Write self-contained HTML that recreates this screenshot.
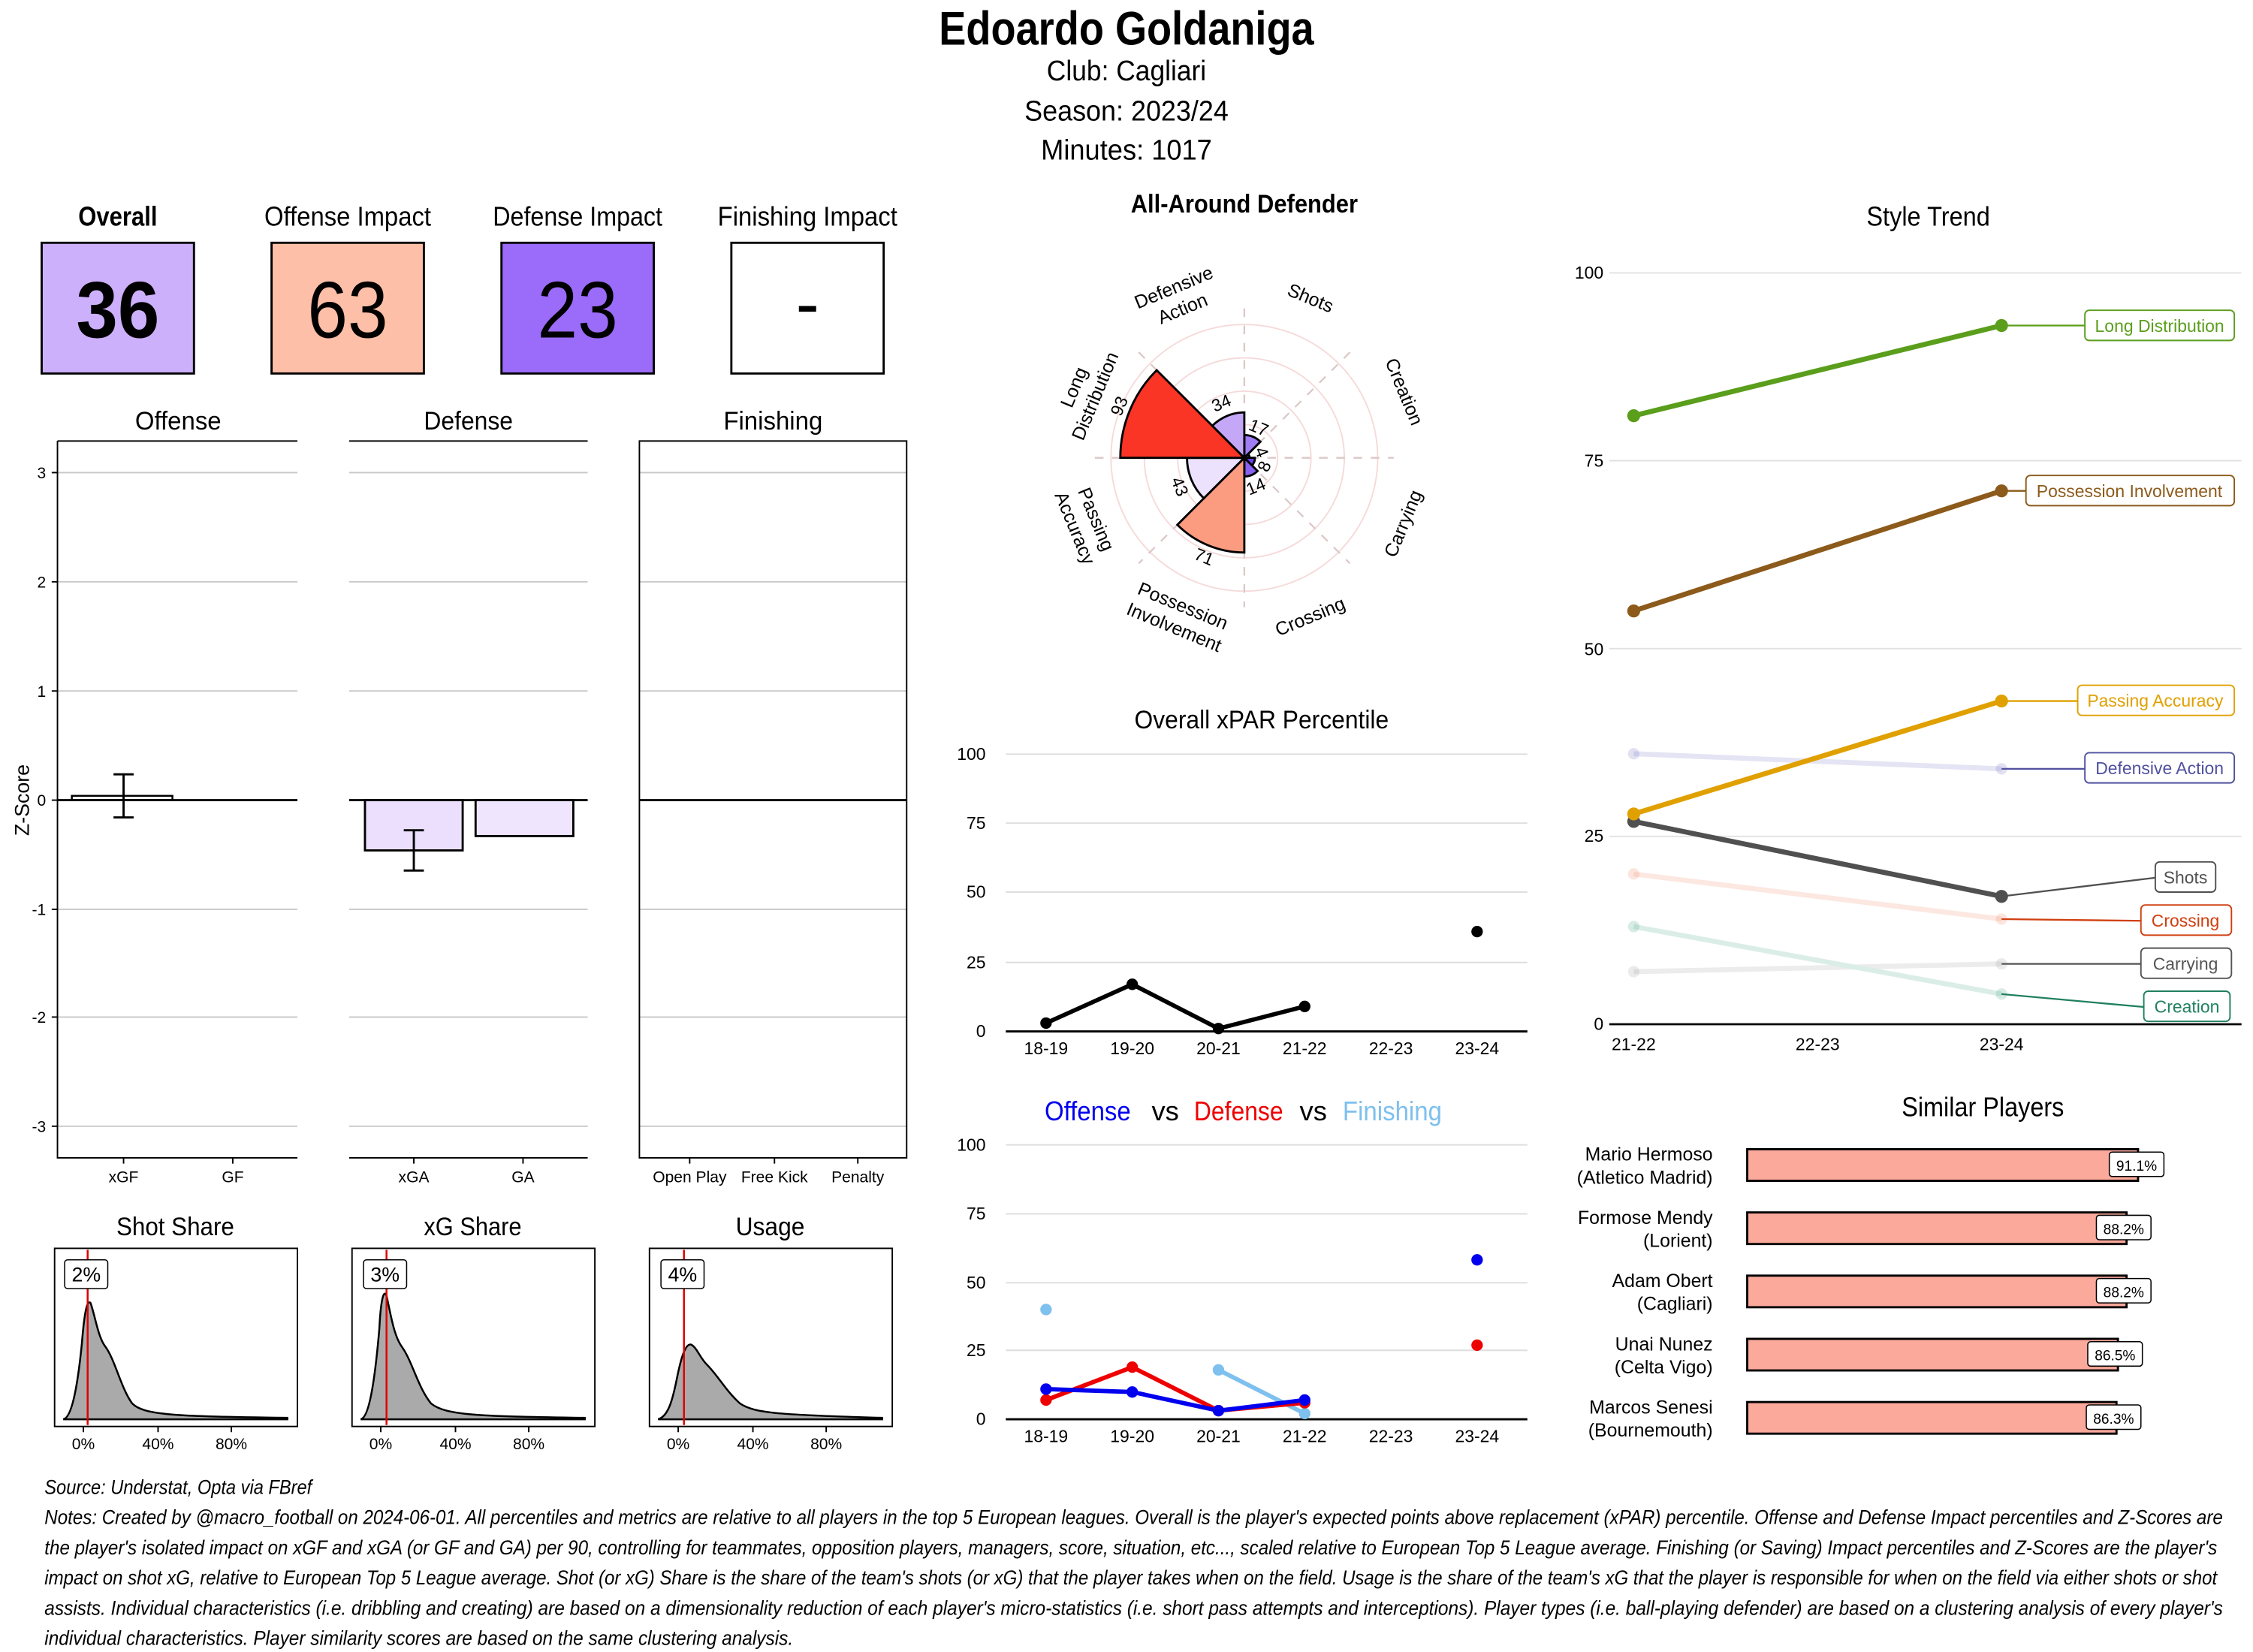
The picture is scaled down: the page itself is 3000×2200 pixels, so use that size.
<!DOCTYPE html>
<html><head><meta charset="utf-8"><style>
html,body{margin:0;padding:0;background:#fff}
svg{display:block}
text{font-family:"Liberation Sans Narrow","Liberation Sans",sans-serif;fill:#000}
</style></head><body>
<svg width="3000" height="2200" viewBox="0 0 1568 1150" preserveAspectRatio="none" xmlns="http://www.w3.org/2000/svg">
<rect width="1568" height="1150" fill="#fff"/>
<!-- Header -->
<text x="784" y="31" font-size="33" font-weight="bold" text-anchor="middle" textLength="261" lengthAdjust="spacingAndGlyphs">Edoardo Goldaniga</text>
<text x="784" y="56" font-size="20" text-anchor="middle" textLength="111" lengthAdjust="spacingAndGlyphs">Club:  Cagliari</text>
<text x="784" y="84" font-size="20" text-anchor="middle" textLength="142" lengthAdjust="spacingAndGlyphs">Season:  2023/24</text>
<text x="784" y="111" font-size="20" text-anchor="middle" textLength="119" lengthAdjust="spacingAndGlyphs">Minutes:  1017</text>

<!-- Impact boxes -->
<g font-size="19" text-anchor="middle">
<text x="82" y="157" font-weight="bold" textLength="55" lengthAdjust="spacingAndGlyphs">Overall</text>
<text x="242" y="157" textLength="116" lengthAdjust="spacingAndGlyphs">Offense Impact</text>
<text x="402" y="157" textLength="118" lengthAdjust="spacingAndGlyphs">Defense Impact</text>
<text x="562" y="157" textLength="125" lengthAdjust="spacingAndGlyphs">Finishing Impact</text>
</g>
<g stroke="#000" stroke-width="1.5">
<rect x="29" y="169" width="106" height="91" fill="#cdb0fb"/>
<rect x="189" y="169" width="106" height="91" fill="#fdbfa8"/>
<rect x="349" y="169" width="106" height="91" fill="#9b6bfa"/>
<rect x="509" y="169" width="106" height="91" fill="#fff"/>
</g>
<g font-size="56" text-anchor="middle">
<text x="82" y="235" font-weight="bold" textLength="58" lengthAdjust="spacingAndGlyphs">36</text>
<text x="242" y="235" textLength="56" lengthAdjust="spacingAndGlyphs">63</text>
<text x="402" y="235" textLength="56" lengthAdjust="spacingAndGlyphs">23</text>
<rect x="556" y="213" width="12" height="4" fill="#000"/>
</g>

<!-- Z-score panels -->
<g font-size="18" text-anchor="middle">
<text x="124" y="299" textLength="60" lengthAdjust="spacingAndGlyphs">Offense</text>
<text x="326" y="299" textLength="62" lengthAdjust="spacingAndGlyphs">Defense</text>
<text x="538" y="299" textLength="69" lengthAdjust="spacingAndGlyphs">Finishing</text>
</g>
<g stroke="#c8c8c8" stroke-width="1">
<path d="M40 329H207M40 405H207M40 481H207M40 633H207M40 708H207M40 784H207"/>
<path d="M243 329H409M243 405H409M243 481H409M243 633H409M243 708H409M243 784H409"/>
<path d="M445 329H631M445 405H631M445 481H631M445 633H631M445 708H631M445 784H631"/>
</g>
<g stroke="#000" stroke-width="1" fill="none">
<path d="M40 307H207M40 307V806H207"/>
<path d="M243 307H409M243 806H409"/>
<rect x="445" y="307" width="186" height="499"/>
<path d="M36 329H40M36 405H40M36 481H40M36 557H40M36 633H40M36 708H40M36 784H40"/>
<path d="M86 806V810M162 806V810M288 806V810M364 806V810M480 806V810M539 806V810M597 806V810"/>
</g>
<g font-size="11" text-anchor="end" fill="#333">
<text x="32" y="333">3</text><text x="32" y="409">2</text><text x="32" y="485">1</text><text x="32" y="561">0</text>
<text x="32" y="637">-1</text><text x="32" y="712">-2</text><text x="32" y="788">-3</text>
</g>
<text transform="translate(20,557) rotate(-90)" font-size="14" text-anchor="middle">Z-Score</text>
<g font-size="11" text-anchor="middle" fill="#333">
<text x="86" y="823">xGF</text><text x="162" y="823">GF</text>
<text x="288" y="823">xGA</text><text x="364" y="823">GA</text>
<text x="480" y="823">Open Play</text><text x="539" y="823">Free Kick</text><text x="597" y="823">Penalty</text>
</g>
<rect x="50" y="554" width="70" height="3" fill="#fff" stroke="#000" stroke-width="1.3"/>
<path d="M40 557H207M243 557H409M445 557H631" stroke="#000" stroke-width="1.5"/>
<rect x="254" y="557" width="68" height="35" fill="#ebdffd" stroke="#000" stroke-width="1.5"/>
<rect x="331" y="557" width="68" height="25" fill="#efe6fd" stroke="#000" stroke-width="1.5"/>
<path d="M86 539V569M79 539H93M79 569H93M288 578V606M281 578H295M281 606H295" stroke="#000" stroke-width="1.5"/>

<!-- Density panels -->
<g font-size="18" text-anchor="middle">
<text x="122" y="860" textLength="82" lengthAdjust="spacingAndGlyphs">Shot Share</text>
<text x="329" y="860" textLength="68" lengthAdjust="spacingAndGlyphs">xG Share</text>
<text x="536" y="860" textLength="48" lengthAdjust="spacingAndGlyphs">Usage</text>
</g>
<path d="M44 988 C50 987 54 965 57 935 C59 910 61 905 63 907 C66 915 68 930 73 937 C80 946 84 966 92 977 C100 985 120 986 200 987 L200 988Z" fill="#aaaaaa" stroke="#000" stroke-width="1.3"/>
<path d="M251 988 C257 987 261 960 264 925 C265 905 267 897 269 902 C272 915 274 930 280 938 C287 948 291 966 300 977 C310 985 330 986 407 987 L407 988Z" fill="#aaaaaa" stroke="#000" stroke-width="1.3"/>
<path d="M458 988 C465 986 468 975 471 960 C474 945 477 935 481 936 C485 938 487 945 492 950 C500 958 505 968 515 977 C525 984 545 985 614 987 L614 988Z" fill="#aaaaaa" stroke="#000" stroke-width="1.3"/>
<g stroke="#e00000" stroke-width="1.3">
<path d="M61 870V992M269 870V992M476 870V992"/>
</g>
<g fill="none" stroke="#000" stroke-width="1">
<rect x="38" y="869" width="169" height="124"/>
<rect x="245" y="869" width="169" height="124"/>
<rect x="452" y="869" width="169" height="124"/>
<path d="M58 993V997M110 993V997M161 993V997M265 993V997M317 993V997M368 993V997M472 993V997M524 993V997M575 993V997"/>
</g>
<g fill="#fff" stroke="#000" stroke-width="0.8">
<rect x="45" y="877" width="30" height="20" rx="2"/>
<rect x="253" y="877" width="30" height="20" rx="2"/>
<rect x="460" y="877" width="30" height="20" rx="2"/>
</g>
<g font-size="14" text-anchor="middle">
<text x="60" y="892">2%</text><text x="268" y="892">3%</text><text x="475" y="892">4%</text>
</g>
<g font-size="11" text-anchor="middle" fill="#333">
<text x="58" y="1009">0%</text><text x="110" y="1009">40%</text><text x="161" y="1009">80%</text>
<text x="265" y="1009">0%</text><text x="317" y="1009">40%</text><text x="368" y="1009">80%</text>
<text x="472" y="1009">0%</text><text x="524" y="1009">40%</text><text x="575" y="1009">80%</text>
</g>

<!-- Radar -->
<text x="866" y="148" font-size="18" font-weight="bold" text-anchor="middle" textLength="158" lengthAdjust="spacingAndGlyphs">All-Around Defender</text>
<g transform="translate(866,318.7)">
<g fill="none" stroke="#f6dada" stroke-width="1">
<circle r="23.2"/><circle r="46.4"/><circle r="69.6"/><circle r="92.8"/>
</g>
<g stroke="#dcc8c8" stroke-width="1.2" stroke-dasharray="6 6">
<path d="M0 -104V104M-104 0H104M-73.5 -73.5L73.5 73.5M73.5 -73.5L-73.5 73.5"/>
</g>
<g stroke="#000" stroke-width="1.5">
<path d="M0 0L0 -15.8A15.8 15.8 0 0 1 11.2 -11.2Z" fill="#a07cf5"/>
<path d="M0 0L2.6 -2.6A3.7 3.7 0 0 1 3.7 0Z" fill="#7a4cf0"/>
<path d="M0 0L7.4 0A7.4 7.4 0 0 1 5.3 5.3Z" fill="#6e42ee"/>
<path d="M0 0L9.2 9.2A13 13 0 0 1 0 13Z" fill="#8a62f2"/>
<path d="M0 0L0 65.9A65.9 65.9 0 0 1 -46.6 46.6Z" fill="#fb9c80"/>
<path d="M0 0L-28.2 28.2A39.9 39.9 0 0 1 -39.9 0Z" fill="#ece2fd"/>
<path d="M0 0L-86.3 0A86.3 86.3 0 0 1 -61 -61Z" fill="#fb3526"/>
<path d="M0 0L-22.3 -22.3A31.6 31.6 0 0 1 0 -31.6Z" fill="#c4a8f7"/>
</g>
<g font-size="12" text-anchor="middle">
<text transform="translate(-16,-38) rotate(-22.5)" y="4" font-family="Liberation Sans">34</text>
<text transform="translate(10,-21) rotate(22.5)" y="4" font-family="Liberation Sans">17</text>
<text transform="translate(12,-4) rotate(67.5)" y="4" font-family="Liberation Sans">4</text>
<text transform="translate(14,6) rotate(-67.5)" y="4" font-family="Liberation Sans">8</text>
<text transform="translate(8,20) rotate(-22.5)" y="4" font-family="Liberation Sans">14</text>
<text transform="translate(-28,69) rotate(22.5)" y="4" font-family="Liberation Sans">71</text>
<text transform="translate(-45,20) rotate(67.5)" y="4" font-family="Liberation Sans">43</text>
<text transform="translate(-87,-36) rotate(-67.5)" y="4" font-family="Liberation Sans">93</text>
</g>
<g font-size="13" text-anchor="middle">
<text transform="rotate(22.5) translate(0,-120)" font-family="Liberation Sans"><tspan x="0" dy="4">Shots</tspan></text>
<text transform="rotate(67.5) translate(0,-120)" font-family="Liberation Sans"><tspan x="0" dy="4">Creation</tspan></text>
<text transform="rotate(112.5) translate(0,-120) rotate(180)" font-family="Liberation Sans"><tspan x="0" dy="4">Carrying</tspan></text>
<text transform="rotate(157.5) translate(0,-120) rotate(180)" font-family="Liberation Sans"><tspan x="0" dy="4">Crossing</tspan></text>
<text transform="rotate(202.5) translate(0,-120) rotate(180)" font-family="Liberation Sans"><tspan x="0" dy="-4">Possession</tspan><tspan x="0" dy="16">Involvement</tspan></text>
<text transform="rotate(247.5) translate(0,-120) rotate(180)" font-family="Liberation Sans"><tspan x="0" dy="-4">Passing</tspan><tspan x="0" dy="16">Accuracy</tspan></text>
<text transform="rotate(292.5) translate(0,-120)" font-family="Liberation Sans"><tspan x="0" dy="-4">Long</tspan><tspan x="0" dy="16">Distribution</tspan></text>
<text transform="rotate(337.5) translate(0,-120)" font-family="Liberation Sans"><tspan x="0" dy="-4">Defensive</tspan><tspan x="0" dy="16">Action</tspan></text>
</g>
</g>

<!-- xPAR percentile -->
<text x="878" y="507" font-size="18" text-anchor="middle" textLength="177" lengthAdjust="spacingAndGlyphs">Overall xPAR Percentile</text>
<g stroke="#dedede" stroke-width="1"><path d="M700 525H1063M700 573H1063M700 621H1063M700 670H1063"/></g>
<path d="M700 718H1063" stroke="#000" stroke-width="1.5"/>
<g font-size="12" text-anchor="end" fill="#444">
<text x="686" y="529" font-family="Liberation Sans">100</text><text x="686" y="577" font-family="Liberation Sans">75</text><text x="686" y="625" font-family="Liberation Sans">50</text><text x="686" y="674" font-family="Liberation Sans">25</text><text x="686" y="722" font-family="Liberation Sans">0</text>
</g>
<g font-size="12" text-anchor="middle" fill="#444">
<text x="728" y="734" font-family="Liberation Sans">18-19</text><text x="788" y="734" font-family="Liberation Sans">19-20</text><text x="848" y="734" font-family="Liberation Sans">20-21</text><text x="908" y="734" font-family="Liberation Sans">21-22</text><text x="968" y="734" font-family="Liberation Sans">22-23</text><text x="1028" y="734" font-family="Liberation Sans">23-24</text>
</g>
<polyline points="728,712.2 788,685.2 848,716 908,700.6" fill="none" stroke="#000" stroke-width="3"/>
<g fill="#000"><circle cx="728" cy="712.2" r="4"/><circle cx="788" cy="685.2" r="4"/><circle cx="848" cy="716" r="4"/><circle cx="908" cy="700.6" r="4"/><circle cx="1028" cy="648.5" r="4"/></g>

<!-- Offense vs Defense vs Finishing -->
<g font-size="19" text-anchor="middle">
<text x="757" y="780" style="fill:#0000ee" textLength="60" lengthAdjust="spacingAndGlyphs">Offense</text>
<text x="811" y="780">vs</text>
<text x="862" y="780" style="fill:#ee0000" textLength="62" lengthAdjust="spacingAndGlyphs">Defense</text>
<text x="914" y="780">vs</text>
<text x="969" y="780" style="fill:#7ec0ee" textLength="69" lengthAdjust="spacingAndGlyphs">Finishing</text>
</g>
<g stroke="#dedede" stroke-width="1"><path d="M700 797H1063M700 845H1063M700 893H1063M700 940H1063"/></g>
<path d="M700 988H1063" stroke="#000" stroke-width="1.5"/>
<g font-size="12" text-anchor="end" fill="#444">
<text x="686" y="801" font-family="Liberation Sans">100</text><text x="686" y="849" font-family="Liberation Sans">75</text><text x="686" y="897" font-family="Liberation Sans">50</text><text x="686" y="944" font-family="Liberation Sans">25</text><text x="686" y="992" font-family="Liberation Sans">0</text>
</g>
<g font-size="12" text-anchor="middle" fill="#444">
<text x="728" y="1004" font-family="Liberation Sans">18-19</text><text x="788" y="1004" font-family="Liberation Sans">19-20</text><text x="848" y="1004" font-family="Liberation Sans">20-21</text><text x="908" y="1004" font-family="Liberation Sans">21-22</text><text x="968" y="1004" font-family="Liberation Sans">22-23</text><text x="1028" y="1004" font-family="Liberation Sans">23-24</text>
</g>
<polyline points="848,953.6 908,984" fill="none" stroke="#7ec0ee" stroke-width="3"/>
<polyline points="728,974.6 788,951.7 848,982 908,976.5" fill="none" stroke="#ee0000" stroke-width="3"/>
<polyline points="728,967 788,969 848,982 908,974.6" fill="none" stroke="#0000ee" stroke-width="3"/>
<g fill="#7ec0ee"><circle cx="728" cy="911.6" r="4"/><circle cx="848" cy="953.6" r="4"/><circle cx="908" cy="984" r="4"/></g>
<g fill="#ee0000"><circle cx="728" cy="974.6" r="4"/><circle cx="788" cy="951.7" r="4"/><circle cx="848" cy="982" r="4"/><circle cx="908" cy="976.5" r="4"/><circle cx="1028" cy="936.4" r="4"/></g>
<g fill="#0000ee"><circle cx="728" cy="967" r="4"/><circle cx="788" cy="969" r="4"/><circle cx="848" cy="982" r="4"/><circle cx="908" cy="974.6" r="4"/><circle cx="1028" cy="877" r="4"/></g>

<!-- Style Trend -->
<text x="1342" y="157" font-size="19" text-anchor="middle" textLength="86" lengthAdjust="spacingAndGlyphs">Style Trend</text>
<g stroke="#e2e2e2" stroke-width="1"><path d="M1120 190H1560M1120 320.7H1560M1120 451.5H1560M1120 582.2H1560"/></g>
<path d="M1120 713H1560" stroke="#000" stroke-width="1.5"/>
<g font-size="12" text-anchor="end" fill="#444">
<text x="1116" y="194" font-family="Liberation Sans">100</text><text x="1116" y="325" font-family="Liberation Sans">75</text><text x="1116" y="456" font-family="Liberation Sans">50</text><text x="1116" y="586" font-family="Liberation Sans">25</text><text x="1116" y="717" font-family="Liberation Sans">0</text>
</g>
<g font-size="12" text-anchor="middle" fill="#444">
<text x="1137" y="731" font-family="Liberation Sans">21-22</text><text x="1265" y="731" font-family="Liberation Sans">22-23</text><text x="1393" y="731" font-family="Liberation Sans">23-24</text>
</g>
<g stroke-width="3.5" fill="none" opacity="0.18">
<polyline points="1137,524.7 1393,535.2" stroke="#6a6ac0"/>
<polyline points="1137,608.4 1393,639.8" stroke="#f08060"/>
<polyline points="1137,676.4 1393,671" stroke="#999"/>
<polyline points="1137,645 1393,692" stroke="#40a080"/>
</g>
<g opacity="0.2"><circle cx="1137" cy="524.7" r="4" fill="#6a6ac0"/><circle cx="1393" cy="535.2" r="4" fill="#6a6ac0"/><circle cx="1137" cy="608.4" r="4" fill="#f08060"/><circle cx="1393" cy="639.8" r="4" fill="#f08060"/><circle cx="1137" cy="676.4" r="4" fill="#999"/><circle cx="1393" cy="671" r="4" fill="#999"/><circle cx="1137" cy="645" r="4" fill="#40a080"/><circle cx="1393" cy="692" r="4" fill="#40a080"/></g>
<g stroke-width="3.5" fill="none">
<polyline points="1137,289.4 1393,226.6" stroke="#5a9e1c"/>
<polyline points="1137,425.3 1393,341.7" stroke="#8c5a1a"/>
<polyline points="1137,566.6 1393,488" stroke="#e0a000"/>
<polyline points="1137,571.8 1393,624" stroke="#505050"/>
</g>
<g><circle cx="1137" cy="289.4" r="4.5" fill="#5a9e1c"/><circle cx="1393" cy="226.6" r="4.5" fill="#5a9e1c"/><circle cx="1137" cy="425.3" r="4.5" fill="#8c5a1a"/><circle cx="1393" cy="341.7" r="4.5" fill="#8c5a1a"/><circle cx="1137" cy="571.8" r="4.5" fill="#505050"/><circle cx="1393" cy="624" r="4.5" fill="#505050"/><circle cx="1137" cy="566.6" r="4.5" fill="#e0a000"/><circle cx="1393" cy="488" r="4.5" fill="#e0a000"/></g>
<g stroke-width="1.2" fill="none">
<path d="M1393 226.6H1451" stroke="#5a9e1c"/>
<path d="M1393 341.7H1410" stroke="#8c5a1a"/>
<path d="M1393 488H1446" stroke="#e0a000"/>
<path d="M1393 535.2H1451" stroke="#5050a0"/>
<path d="M1393 624L1500 611" stroke="#505050"/>
<path d="M1393 639.8L1490 641" stroke="#d04010"/>
<path d="M1393 671H1490" stroke="#555"/>
<path d="M1393 692L1492 701" stroke="#208060"/>
</g>
<g fill="#fff" stroke-width="1">
<rect x="1451" y="216" width="104" height="21" rx="3" stroke="#5a9e1c"/>
<rect x="1410" y="331" width="145" height="21" rx="3" stroke="#8c5a1a"/>
<rect x="1446" y="477" width="109" height="21" rx="3" stroke="#e0a000"/>
<rect x="1451" y="524" width="104" height="21" rx="3" stroke="#5050a0"/>
<rect x="1500" y="600" width="42" height="21" rx="3" stroke="#505050"/>
<rect x="1490" y="630" width="63" height="21" rx="3" stroke="#d04010"/>
<rect x="1490" y="660" width="63" height="21" rx="3" stroke="#555"/>
<rect x="1492" y="690" width="60" height="21" rx="3" stroke="#208060"/>
</g>
<g font-size="12" text-anchor="middle">
<text x="1503" y="231" style="fill:#5a9e1c" font-family="Liberation Sans">Long Distribution</text>
<text x="1482" y="346" style="fill:#8c5a1a" font-family="Liberation Sans">Possession Involvement</text>
<text x="1500" y="492" style="fill:#e0a000" font-family="Liberation Sans">Passing Accuracy</text>
<text x="1503" y="539" style="fill:#5050a0" font-family="Liberation Sans">Defensive Action</text>
<text x="1521" y="615" style="fill:#505050" font-family="Liberation Sans">Shots</text>
<text x="1521" y="645" style="fill:#d04010" font-family="Liberation Sans">Crossing</text>
<text x="1521" y="675" style="fill:#555" font-family="Liberation Sans">Carrying</text>
<text x="1522" y="705" style="fill:#208060" font-family="Liberation Sans">Creation</text>
</g>

<!-- Similar Players -->
<text x="1380" y="777" font-size="19" text-anchor="middle" textLength="113" lengthAdjust="spacingAndGlyphs">Similar Players</text>
<g fill="#fba99b" stroke="#000" stroke-width="1.5">
<rect x="1216" y="800" width="272" height="22"/>
<rect x="1216" y="844" width="264" height="22"/>
<rect x="1216" y="888" width="264" height="22"/>
<rect x="1216" y="932" width="258" height="22"/>
<rect x="1216" y="976" width="257" height="22"/>
</g>
<g fill="#fff" stroke="#000" stroke-width="0.8">
<rect x="1468" y="802" width="38" height="17" rx="2"/>
<rect x="1459" y="846" width="38" height="17" rx="2"/>
<rect x="1459" y="890" width="38" height="17" rx="2"/>
<rect x="1453" y="934" width="38" height="17" rx="2"/>
<rect x="1452" y="978" width="38" height="17" rx="2"/>
</g>
<g font-size="10" text-anchor="middle">
<text x="1487" y="815" font-family="Liberation Sans">91.1%</text>
<text x="1478" y="859" font-family="Liberation Sans">88.2%</text>
<text x="1478" y="903" font-family="Liberation Sans">88.2%</text>
<text x="1472" y="947" font-family="Liberation Sans">86.5%</text>
<text x="1471" y="991" font-family="Liberation Sans">86.3%</text>
</g>
<g font-size="13" text-anchor="end">
<text x="1192" y="808">Mario Hermoso</text><text x="1192" y="824">(Atletico Madrid)</text>
<text x="1192" y="852">Formose Mendy</text><text x="1192" y="868">(Lorient)</text>
<text x="1192" y="896">Adam Obert</text><text x="1192" y="912">(Cagliari)</text>
<text x="1192" y="940">Unai Nunez</text><text x="1192" y="956">(Celta Vigo)</text>
<text x="1192" y="984">Marcos Senesi</text><text x="1192" y="1000">(Bournemouth)</text>
</g>

<!-- Footer -->
<g font-size="14" font-style="italic">
<text x="31" y="1040" textLength="186" lengthAdjust="spacingAndGlyphs">Source: Understat, Opta via FBref</text>
<text x="31" y="1061" textLength="1516" lengthAdjust="spacingAndGlyphs">Notes: Created by @macro_football on 2024-06-01. All percentiles and metrics are relative to all players in the top 5 European leagues. Overall is the player's expected points above replacement (xPAR) percentile. Offense and Defense Impact percentiles and Z-Scores are</text>
<text x="31" y="1082" textLength="1512" lengthAdjust="spacingAndGlyphs">the player's isolated impact on xGF and xGA (or GF and GA) per 90, controlling for teammates, opposition players, managers, score, situation, etc..., scaled relative to European Top 5 League average. Finishing (or Saving) Impact percentiles and Z-Scores are the player's</text>
<text x="31" y="1103" textLength="1512" lengthAdjust="spacingAndGlyphs">impact on shot xG, relative to European Top 5 League average. Shot (or xG) Share is the share of the team's shots (or xG) that the player takes when on the field. Usage is the share of the team's xG that the player is responsible for when on the field via either shots or shot</text>
<text x="31" y="1124" textLength="1516" lengthAdjust="spacingAndGlyphs">assists. Individual characteristics (i.e. dribbling and creating) are based on a dimensionality reduction of each player's micro-statistics (i.e. short pass attempts and interceptions). Player types (i.e. ball-playing defender) are based on a clustering analysis of every player's</text>
<text x="31" y="1145" textLength="521" lengthAdjust="spacingAndGlyphs">individual characteristics. Player similarity scores are based on the same clustering analysis.</text>
</g>
</svg>
</body></html>
